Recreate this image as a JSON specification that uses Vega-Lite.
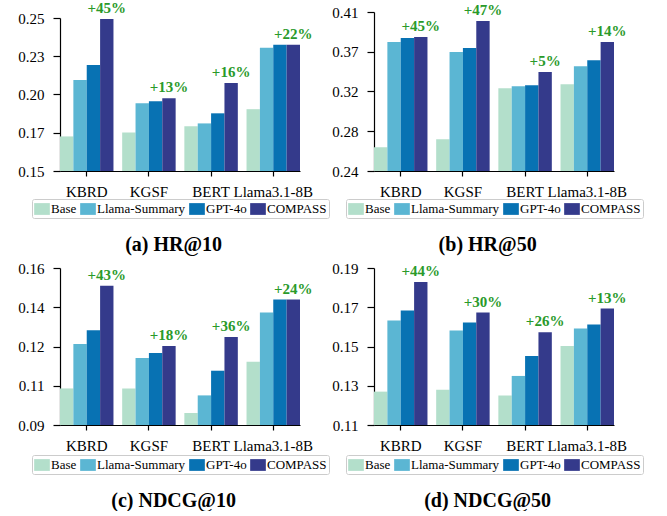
{
  "$schema": "https://vega.github.io/schema/vega-lite/v6.json",
  "padding": {"left": 17, "top": 1, "right": 0, "bottom": 0},
  "background": "white",
  "config": {
    "view": {"stroke": null},
    "font": "Liberation Serif",
    "axis": {"domainColor": "black", "tickColor": "black", "labelColor": "black", "labelFont": "Liberation Serif", "grid": false, "domainWidth": 1.2, "tickWidth": 1.2, "title": null},
    "axisX": {"labelAngle": 0, "labelFontSize": 15, "tickSize": 5, "labelPadding": 8, "labelOverlap": false},
    "axisY": {"labelFontSize": 15, "tickSize": 7, "labelPadding": 9},
    "legend": {"orient": "none", "legendX": -28, "legendY": 187, "direction": "horizontal", "columns": 4, "symbolType": "M-1,-0.75H1V0.75H-1Z", "symbolSize": 246, "symbolStrokeWidth": 0, "labelFont": "Liberation Serif", "labelFontSize": 13, "labelColor": "black", "labelOffset": 1, "columnPadding": 3, "padding": 2, "strokeColor": "#cccccc", "cornerRadius": 2},
    "title": {"orient": "bottom", "fontSize": 20, "fontWeight": "bold", "font": "Liberation Serif", "offset": 16, "anchor": "middle", "frame": "bounds", "color": "black"}
  },
  "datasets": {
    "bars": [
      {"metric": "HR@10", "model": "KBRD", "method": "Base", "value": 0.1726},
      {"metric": "HR@10", "model": "KBRD", "method": "Llama-Summary", "value": 0.2094},
      {"metric": "HR@10", "model": "KBRD", "method": "GPT-4o", "value": 0.2193},
      {"metric": "HR@10", "model": "KBRD", "method": "COMPASS", "value": 0.2493, "label": "+45%"},
      {"metric": "HR@10", "model": "KGSF", "method": "Base", "value": 0.1752},
      {"metric": "HR@10", "model": "KGSF", "method": "Llama-Summary", "value": 0.1943},
      {"metric": "HR@10", "model": "KGSF", "method": "GPT-4o", "value": 0.1956},
      {"metric": "HR@10", "model": "KGSF", "method": "COMPASS", "value": 0.1976, "label": "+13%"},
      {"metric": "HR@10", "model": "BERT", "method": "Base", "value": 0.1792},
      {"metric": "HR@10", "model": "BERT", "method": "Llama-Summary", "value": 0.1811},
      {"metric": "HR@10", "model": "BERT", "method": "GPT-4o", "value": 0.1877},
      {"metric": "HR@10", "model": "BERT", "method": "COMPASS", "value": 0.2075, "label": "+16%"},
      {"metric": "HR@10", "model": "Llama3.1-8B", "method": "Base", "value": 0.1904},
      {"metric": "HR@10", "model": "Llama3.1-8B", "method": "Llama-Summary", "value": 0.2305},
      {"metric": "HR@10", "model": "Llama3.1-8B", "method": "GPT-4o", "value": 0.2325},
      {"metric": "HR@10", "model": "Llama3.1-8B", "method": "COMPASS", "value": 0.2325, "label": "+22%"},

      {"metric": "HR@50", "model": "KBRD", "method": "Base", "value": 0.2654},
      {"metric": "HR@50", "model": "KBRD", "method": "Llama-Summary", "value": 0.3778},
      {"metric": "HR@50", "model": "KBRD", "method": "GPT-4o", "value": 0.3821},
      {"metric": "HR@50", "model": "KBRD", "method": "COMPASS", "value": 0.3832, "label": "+45%"},
      {"metric": "HR@50", "model": "KGSF", "method": "Base", "value": 0.2740},
      {"metric": "HR@50", "model": "KGSF", "method": "Llama-Summary", "value": 0.3671},
      {"metric": "HR@50", "model": "KGSF", "method": "GPT-4o", "value": 0.3714},
      {"metric": "HR@50", "model": "KGSF", "method": "COMPASS", "value": 0.4003, "label": "+47%"},
      {"metric": "HR@50", "model": "BERT", "method": "Base", "value": 0.3284},
      {"metric": "HR@50", "model": "BERT", "method": "Llama-Summary", "value": 0.3306},
      {"metric": "HR@50", "model": "BERT", "method": "GPT-4o", "value": 0.3316},
      {"metric": "HR@50", "model": "BERT", "method": "COMPASS", "value": 0.3459, "label": "+5%"},
      {"metric": "HR@50", "model": "Llama3.1-8B", "method": "Base", "value": 0.3327},
      {"metric": "HR@50", "model": "Llama3.1-8B", "method": "Llama-Summary", "value": 0.3521},
      {"metric": "HR@50", "model": "Llama3.1-8B", "method": "GPT-4o", "value": 0.3585},
      {"metric": "HR@50", "model": "Llama3.1-8B", "method": "COMPASS", "value": 0.3778, "label": "+14%"},

      {"metric": "NDCG@10", "model": "KBRD", "method": "Base", "value": 0.1063},
      {"metric": "NDCG@10", "model": "KBRD", "method": "Llama-Summary", "value": 0.1261},
      {"metric": "NDCG@10", "model": "KBRD", "method": "GPT-4o", "value": 0.1323},
      {"metric": "NDCG@10", "model": "KBRD", "method": "COMPASS", "value": 0.1521, "label": "+43%"},
      {"metric": "NDCG@10", "model": "KGSF", "method": "Base", "value": 0.1063},
      {"metric": "NDCG@10", "model": "KGSF", "method": "Llama-Summary", "value": 0.1199},
      {"metric": "NDCG@10", "model": "KGSF", "method": "GPT-4o", "value": 0.1221},
      {"metric": "NDCG@10", "model": "KGSF", "method": "COMPASS", "value": 0.1252, "label": "+18%"},
      {"metric": "NDCG@10", "model": "BERT", "method": "Base", "value": 0.0954},
      {"metric": "NDCG@10", "model": "BERT", "method": "Llama-Summary", "value": 0.1032},
      {"metric": "NDCG@10", "model": "BERT", "method": "GPT-4o", "value": 0.1142},
      {"metric": "NDCG@10", "model": "BERT", "method": "COMPASS", "value": 0.1292, "label": "+36%"},
      {"metric": "NDCG@10", "model": "Llama3.1-8B", "method": "Base", "value": 0.1182},
      {"metric": "NDCG@10", "model": "Llama3.1-8B", "method": "Llama-Summary", "value": 0.1402},
      {"metric": "NDCG@10", "model": "Llama3.1-8B", "method": "GPT-4o", "value": 0.1459},
      {"metric": "NDCG@10", "model": "Llama3.1-8B", "method": "COMPASS", "value": 0.1459, "label": "+24%"},

      {"metric": "NDCG@50", "model": "KBRD", "method": "Base", "value": 0.1270},
      {"metric": "NDCG@50", "model": "KBRD", "method": "Llama-Summary", "value": 0.1633},
      {"metric": "NDCG@50", "model": "KBRD", "method": "GPT-4o", "value": 0.1683},
      {"metric": "NDCG@50", "model": "KBRD", "method": "COMPASS", "value": 0.1829, "label": "+44%"},
      {"metric": "NDCG@50", "model": "KGSF", "method": "Base", "value": 0.1280},
      {"metric": "NDCG@50", "model": "KGSF", "method": "Llama-Summary", "value": 0.1582},
      {"metric": "NDCG@50", "model": "KGSF", "method": "GPT-4o", "value": 0.1622},
      {"metric": "NDCG@50", "model": "KGSF", "method": "COMPASS", "value": 0.1673, "label": "+30%"},
      {"metric": "NDCG@50", "model": "BERT", "method": "Base", "value": 0.1250},
      {"metric": "NDCG@50", "model": "BERT", "method": "Llama-Summary", "value": 0.1350},
      {"metric": "NDCG@50", "model": "BERT", "method": "GPT-4o", "value": 0.1451},
      {"metric": "NDCG@50", "model": "BERT", "method": "COMPASS", "value": 0.1572, "label": "+26%"},
      {"metric": "NDCG@50", "model": "Llama3.1-8B", "method": "Base", "value": 0.1502},
      {"metric": "NDCG@50", "model": "Llama3.1-8B", "method": "Llama-Summary", "value": 0.1592},
      {"metric": "NDCG@50", "model": "Llama3.1-8B", "method": "GPT-4o", "value": 0.1612},
      {"metric": "NDCG@50", "model": "Llama3.1-8B", "method": "COMPASS", "value": 0.1693, "label": "+13%"}
    ]
  },
  "data": {"name": "bars"},
  "columns": 2,
  "bounds": "flush",
  "spacing": {"row": 97, "column": 74},
  "resolve": {"scale": {"x": "independent", "y": "independent", "xOffset": "independent", "color": "independent"}, "legend": {"color": "independent"}},
  "concat": [
    {
      "width": 240, "height": 159,
      "title": {"text": "(a) HR@10"},
      "transform": [{"filter": "datum.metric === 'HR@10'"}],
      "encoding": {
        "x": {"field": "model", "type": "nominal", "sort": ["KBRD", "KGSF", "BERT", "Llama3.1-8B"], "scale": {"paddingInner": 0.14, "paddingOuter": 0}},
        "y": {"field": "value", "type": "quantitative", "scale": {"domain": [0.15, 0.25], "range": [159, 6], "nice": false, "zero": false}, "axis": {"values": [0.15, 0.175, 0.2, 0.225, 0.25], "format": ".2f"}},
        "xOffset": {"field": "method", "type": "nominal", "sort": ["Base", "Llama-Summary", "GPT-4o", "COMPASS"], "scale": {"domain": ["Base", "Llama-Summary", "GPT-4o", "COMPASS"], "paddingInner": 0, "paddingOuter": 0}}
      },
      "layer": [
        {"mark": {"type": "bar"}, "encoding": {"y2": {"datum": 0.15}, "color": {"field": "method", "type": "nominal", "sort": ["Base", "Llama-Summary", "GPT-4o", "COMPASS"], "scale": {"domain": ["Base", "Llama-Summary", "GPT-4o", "COMPASS"], "range": ["#b3dfcb", "#5bb6d3", "#0872b3", "#343a8b"]}, "legend": {"title": null}}}},
        {"transform": [{"filter": "datum.method === 'COMPASS'"}], "mark": {"type": "text", "baseline": "bottom", "dy": -3, "fontWeight": "bold", "fontSize": 15, "color": "#2a9a2a", "font": "Liberation Serif"}, "encoding": {"text": {"field": "label"}}}
      ]
    },
    {
      "width": 240, "height": 159,
      "title": {"text": "(b) HR@50"},
      "transform": [{"filter": "datum.metric === 'HR@50'"}],
      "encoding": {
        "x": {"field": "model", "type": "nominal", "sort": ["KBRD", "KGSF", "BERT", "Llama3.1-8B"], "scale": {"paddingInner": 0.14, "paddingOuter": 0}},
        "y": {"field": "value", "type": "quantitative", "scale": {"domain": [0.24, 0.41], "nice": false, "zero": false}, "axis": {"values": [0.24, 0.2825, 0.325, 0.3675, 0.41], "labelExpr": "datum.value == 0.325 ? '0.32' : format(datum.value, '.2f')"}},
        "xOffset": {"field": "method", "type": "nominal", "sort": ["Base", "Llama-Summary", "GPT-4o", "COMPASS"], "scale": {"domain": ["Base", "Llama-Summary", "GPT-4o", "COMPASS"], "paddingInner": 0, "paddingOuter": 0}}
      },
      "layer": [
        {"mark": {"type": "bar"}, "encoding": {"y2": {"datum": 0.24}, "color": {"field": "method", "type": "nominal", "sort": ["Base", "Llama-Summary", "GPT-4o", "COMPASS"], "scale": {"domain": ["Base", "Llama-Summary", "GPT-4o", "COMPASS"], "range": ["#b3dfcb", "#5bb6d3", "#0872b3", "#343a8b"]}, "legend": {"title": null}}}},
        {"transform": [{"filter": "datum.method === 'COMPASS'"}], "mark": {"type": "text", "baseline": "bottom", "dy": -3, "fontWeight": "bold", "fontSize": 15, "color": "#2a9a2a", "font": "Liberation Serif"}, "encoding": {"text": {"field": "label"}}}
      ]
    },
    {
      "width": 240, "height": 157,
      "title": {"text": "(c) NDCG@10"},
      "transform": [{"filter": "datum.metric === 'NDCG@10'"}],
      "encoding": {
        "x": {"field": "model", "type": "nominal", "sort": ["KBRD", "KGSF", "BERT", "Llama3.1-8B"], "scale": {"paddingInner": 0.14, "paddingOuter": 0}},
        "y": {"field": "value", "type": "quantitative", "scale": {"domain": [0.09, 0.16], "nice": false, "zero": false}, "axis": {"values": [0.09, 0.1075, 0.125, 0.1425, 0.16], "labelExpr": "datum.value == 0.125 ? '0.12' : format(datum.value, '.2f')"}},
        "xOffset": {"field": "method", "type": "nominal", "sort": ["Base", "Llama-Summary", "GPT-4o", "COMPASS"], "scale": {"domain": ["Base", "Llama-Summary", "GPT-4o", "COMPASS"], "paddingInner": 0, "paddingOuter": 0}}
      },
      "layer": [
        {"mark": {"type": "bar"}, "encoding": {"y2": {"datum": 0.09}, "color": {"field": "method", "type": "nominal", "sort": ["Base", "Llama-Summary", "GPT-4o", "COMPASS"], "scale": {"domain": ["Base", "Llama-Summary", "GPT-4o", "COMPASS"], "range": ["#b3dfcb", "#5bb6d3", "#0872b3", "#343a8b"]}, "legend": {"title": null}}}},
        {"transform": [{"filter": "datum.method === 'COMPASS'"}], "mark": {"type": "text", "baseline": "bottom", "dy": -3, "fontWeight": "bold", "fontSize": 15, "color": "#2a9a2a", "font": "Liberation Serif"}, "encoding": {"text": {"field": "label"}}}
      ]
    },
    {
      "width": 240, "height": 157,
      "title": {"text": "(d) NDCG@50"},
      "transform": [{"filter": "datum.metric === 'NDCG@50'"}],
      "encoding": {
        "x": {"field": "model", "type": "nominal", "sort": ["KBRD", "KGSF", "BERT", "Llama3.1-8B"], "scale": {"paddingInner": 0.14, "paddingOuter": 0}},
        "y": {"field": "value", "type": "quantitative", "scale": {"domain": [0.11, 0.19], "nice": false, "zero": false}, "axis": {"values": [0.11, 0.13, 0.15, 0.17, 0.19], "format": ".2f"}},
        "xOffset": {"field": "method", "type": "nominal", "sort": ["Base", "Llama-Summary", "GPT-4o", "COMPASS"], "scale": {"domain": ["Base", "Llama-Summary", "GPT-4o", "COMPASS"], "paddingInner": 0, "paddingOuter": 0}}
      },
      "layer": [
        {"mark": {"type": "bar"}, "encoding": {"y2": {"datum": 0.11}, "color": {"field": "method", "type": "nominal", "sort": ["Base", "Llama-Summary", "GPT-4o", "COMPASS"], "scale": {"domain": ["Base", "Llama-Summary", "GPT-4o", "COMPASS"], "range": ["#b3dfcb", "#5bb6d3", "#0872b3", "#343a8b"]}, "legend": {"title": null}}}},
        {"transform": [{"filter": "datum.method === 'COMPASS'"}], "mark": {"type": "text", "baseline": "bottom", "dy": -3, "fontWeight": "bold", "fontSize": 15, "color": "#2a9a2a", "font": "Liberation Serif"}, "encoding": {"text": {"field": "label"}}}
      ]
    }
  ]
}
